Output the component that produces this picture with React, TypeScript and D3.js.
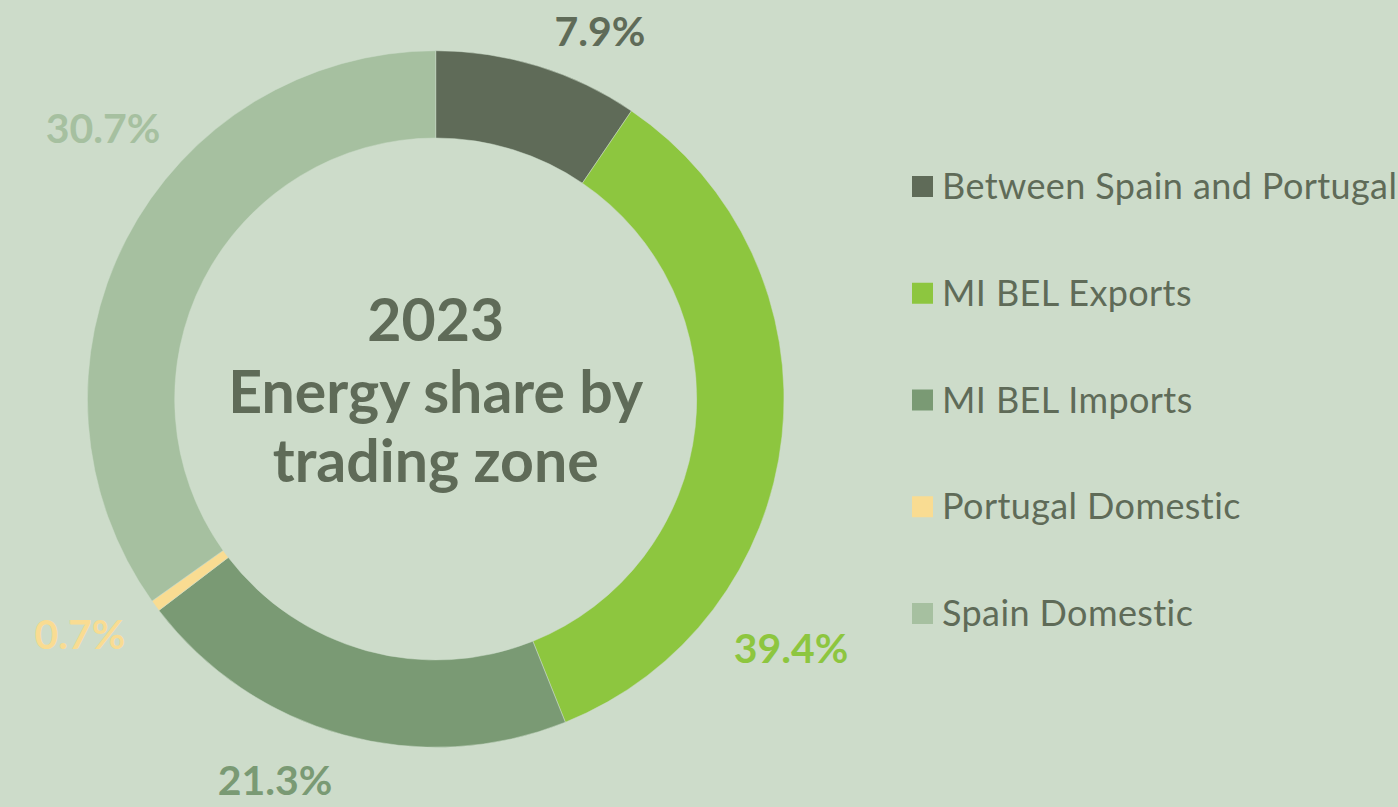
import React, { useEffect, useRef } from "react";
import * as d3 from "d3";

const categories = [
  "Between Spain and Portugal",
  "MIBEL Exports",
  "MIBEL Imports",
  "Portugal Domestic",
  "Spain Domestic",
];
// shares printed on the labels
const shareLabels = [7.9, 39.4, 21.3, 0.7, 30.7];
// arc sizes as drawn in the picture (the ring does not follow the labels exactly)
const arcValues = [9.5, 34.43, 20.69, 0.53, 34.85];
const colors = ["#5f6b58", "#8dc63f", "#7a9a74", "#f9dc92", "#a6c0a0"];
const legendLabels = [
  "Between Spain and Portugal",
  "MI BEL Exports",
  "MI BEL Imports",
  "Portugal Domestic",
  "Spain Domestic",
];
const titleLines = ["2023", "Energy share by", "trading zone"];

// label layout (center x, baseline y) for the value labels
const labelLayout: [number, number][] = [
  [600, 46],
  [791, 663],
  [275, 795],
  [80, 649],
  [103, 143],
];

const W = 1398;
const H = 807;
const BG = "#cddcca";
const TEXT = "#5f6b58";
const FONT = "Lato, 'Open Sans', sans-serif";

export default function App() {
  const ref = useRef<SVGSVGElement>(null);

  useEffect(() => {
    document.body.style.margin = "0";
    const svg = d3.select(ref.current);
    svg.selectAll("*").remove();

    svg.append("rect").attr("width", W).attr("height", H).attr("fill", BG);

    const cx = 435.7;
    const cy = 399;
    const R = 348.3;
    const r = 261;

    const pie = d3
      .pie<number>()
      .sort(null)
      .value((d) => d)
      .startAngle(0)
      .endAngle(2 * Math.PI);
    const arcs = pie(arcValues);
    const arc = d3.arc<d3.PieArcDatum<number>>().innerRadius(r).outerRadius(R);

    const g = svg.append("g").attr("transform", `translate(${cx},${cy})`);
    g.selectAll("path")
      .data(arcs)
      .join("path")
      .attr("d", arc as any)
      .attr("fill", (_, i) => colors[i])
      .attr("stroke", BG)
      .attr("stroke-width", 0.5);

    // value labels
    svg
      .append("g")
      .selectAll("text")
      .data(shareLabels)
      .join("text")
      .attr("x", (_, i) => labelLayout[i][0])
      .attr("y", (_, i) => labelLayout[i][1])
      .attr("text-anchor", "middle")
      .attr("font-family", FONT)
      .attr("font-weight", 700)
      .attr("font-size", 41)
      .attr("fill", (_, i) => colors[i])
      .text((d) => `${d.toFixed(1)}%`);

    // center title
    const title = svg
      .append("text")
      .attr("text-anchor", "middle")
      .attr("font-family", FONT)
      .attr("font-weight", 700)
      .attr("font-size", 59)
      .attr("fill", TEXT);
    const baselines = [341, 413, 482];
    titleLines.forEach((t, i) => {
      title
        .append("tspan")
        .attr("x", cx)
        .attr("y", baselines[i])
        .text(t);
    });

    // legend
    const leg = svg.append("g");
    const rowY = d3
      .scalePoint<string>()
      .domain(categories)
      .range([176, 603]);
    const items = leg
      .selectAll("g")
      .data(categories)
      .join("g")
      .attr("transform", (d) => `translate(912,${rowY(d)})`);
    items
      .append("rect")
      .attr("width", 21)
      .attr("height", 21)
      .attr("fill", (_, i) => colors[i]);
    items
      .append("text")
      .attr("x", 30)
      .attr("y", 23)
      .attr("font-family", FONT)
      .attr("font-size", 36)
      .attr("letter-spacing", 0.4)
      .attr("fill", TEXT)
      .text((_, i) => legendLabels[i]);
  }, []);

  return (
    <svg
      ref={ref}
      width={W}
      height={H}
      style={{ position: "absolute", left: 0, top: 0, display: "block" }}
    />
  );
}
